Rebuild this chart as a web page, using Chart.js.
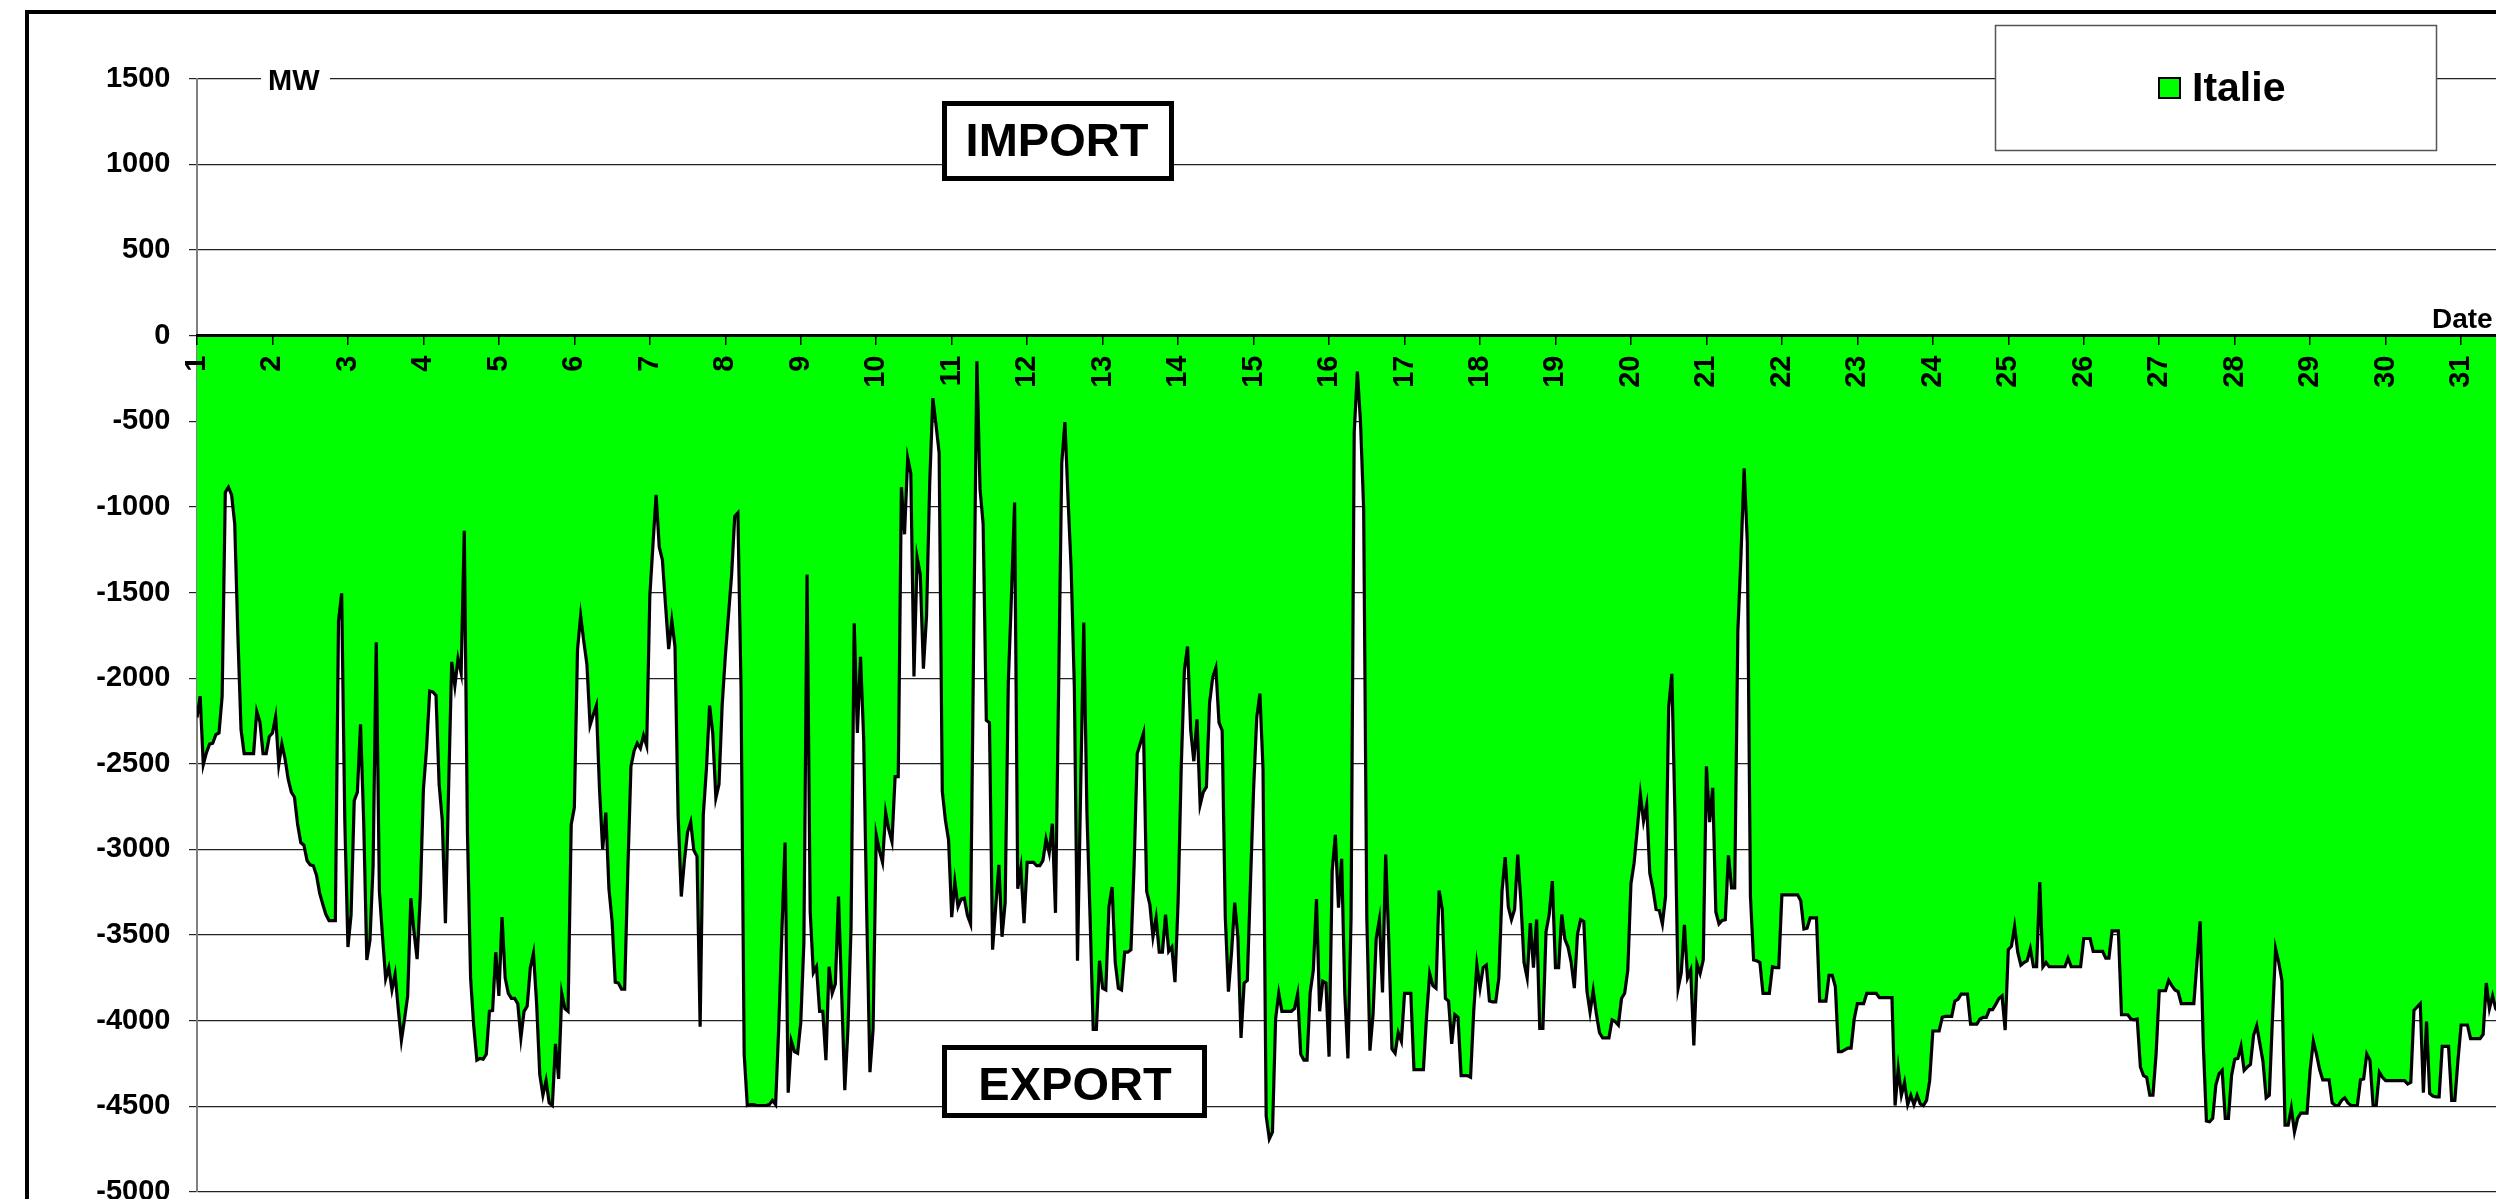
<!DOCTYPE html>
<html>
<head>
<meta charset="utf-8">
<script src="https://cdn.jsdelivr.net/npm/chart.js@4.4.1/dist/chart.umd.min.js"></script>
<style>
  html, body { margin: 0; padding: 0; background: #fff; width: 2496px; height: 1199px; overflow: hidden; }
  canvas { display: block; }
</style>
</head>
<body>
<canvas id="flows" width="2600" height="1230"></canvas>
<script>
// Day numbers shown on the horizontal axis
const dayLabels = [1,2,3,4,5,6,7,8,9,10,11,12,13,14,15,16,17,18,19,20,21,22,23,24,25,26,27,28,29,30,31];
const hoursPerDay = 24;

// Vertical axis range (MW)
const yMin = -5000;
const yMax = 1500;
const yStep = 500;

const seriesName = 'Italie';

// Hourly exchange balance with Italy, MW (negative = export)
const italieMW = [
  // day 1
  -2230,-2105,-2505,-2435,-2385,-2380,-2330,-2320,-2105,-915,-885,-930,-1100,-1750,-2300,-2440,-2440,-2440,-2440,-2195,-2255,-2440,-2440,-2340,
  // day 2
  -2320,-2225,-2505,-2385,-2470,-2590,-2665,-2695,-2855,-2960,-2975,-3065,-3090,-3095,-3150,-3255,-3320,-3380,-3415,-3415,-3415,-1665,-1505,-2830,
  // day 3
  -3570,-3380,-2715,-2665,-2270,-2830,-3645,-3530,-3095,-1790,-3245,-3510,-3755,-3690,-3820,-3730,-3930,-4115,-3990,-3855,-3285,-3480,-3640,-3275,
  // day 4
  -2650,-2410,-2075,-2080,-2100,-2620,-2830,-3430,-2650,-1905,-2045,-1885,-1970,-1140,-2900,-3750,-4030,-4230,-4220,-4225,-4195,-3945,-3940,-3600,
  // day 5
  -3855,-3395,-3750,-3840,-3870,-3870,-3900,-4100,-3945,-3915,-3690,-3605,-3900,-4315,-4435,-4350,-4480,-4495,-4135,-4340,-3840,-3930,-3945,-2855,
  // day 6
  -2755,-1835,-1635,-1785,-1920,-2275,-2215,-2160,-2650,-3000,-2785,-3230,-3420,-3775,-3780,-3815,-3815,-3125,-2515,-2425,-2380,-2410,-2335,-2395,
  // day 7
  -1520,-1220,-930,-1235,-1310,-1575,-1830,-1665,-1815,-2800,-3275,-3065,-2900,-2840,-3005,-3040,-4035,-2800,-2530,-2160,-2320,-2700,-2620,-2160,
  // day 8
  -1875,-1635,-1400,-1055,-1035,-2055,-4195,-4495,-4490,-4490,-4495,-4495,-4495,-4495,-4490,-4465,-4490,-4035,-3480,-2960,-4420,-4120,-4180,-4190,
  // day 9
  -4010,-3540,-1395,-3365,-3720,-3685,-3945,-3945,-4230,-3685,-3840,-3785,-3275,-3840,-4405,-4050,-3450,-1680,-2320,-1875,-2350,-3395,-4300,-4050,
  // day 10
  -2915,-3005,-3075,-2785,-2885,-2955,-2575,-2575,-885,-1160,-715,-805,-1990,-1295,-1395,-1945,-1635,-865,-365,-520,-685,-2660,-2830,-2945,
  // day 11
  -3395,-3190,-3335,-3290,-3285,-3385,-3435,-1755,-150,-895,-1100,-2245,-2260,-3585,-3335,-3090,-3510,-3310,-2025,-1520,-975,-3230,-3110,-3430,
  // day 12
  -3075,-3075,-3075,-3095,-3095,-3065,-2940,-3020,-2850,-3370,-2055,-745,-505,-955,-1370,-2055,-3650,-2650,-1675,-2785,-3395,-4050,-4050,-3650,
  // day 13
  -3810,-3820,-3335,-3220,-3660,-3810,-3820,-3600,-3600,-3585,-3095,-2440,-2380,-2320,-3245,-3320,-3510,-3400,-3600,-3600,-3380,-3595,-3570,-3775,
  // day 14
  -3305,-2515,-1950,-1815,-2305,-2485,-2240,-2740,-2665,-2635,-2145,-1995,-1940,-2260,-2305,-3395,-3830,-3600,-3310,-3510,-4100,-3780,-3765,-3200,
  // day 15
  -2650,-2230,-2090,-2530,-4555,-4690,-4650,-3990,-3840,-3945,-3945,-3945,-3945,-3930,-3845,-4195,-4230,-4230,-3835,-3705,-3290,-3945,-3770,-3780,
  // day 16
  -4210,-3125,-2915,-3340,-3055,-3840,-4220,-3395,-565,-210,-505,-1010,-3395,-4175,-3960,-3520,-3410,-3835,-3030,-3540,-4165,-4190,-4070,-4120,
  // day 17
  -3840,-3840,-3840,-4285,-4285,-4285,-4285,-3975,-3725,-3795,-3810,-3240,-3350,-3870,-3885,-4135,-3965,-3980,-4320,-4320,-4320,-4330,-3945,-3675,
  // day 18
  -3810,-3690,-3675,-3885,-3890,-3890,-3750,-3245,-3045,-3335,-3410,-3350,-3030,-3305,-3660,-3750,-3430,-3690,-3410,-4045,-4045,-3480,-3380,-3185,
  // day 19
  -3690,-3690,-3380,-3525,-3570,-3660,-3810,-3495,-3410,-3420,-3825,-3950,-3825,-3960,-4070,-4100,-4100,-4100,-3995,-4005,-4025,-3870,-3840,-3705,
  // day 20
  -3200,-3080,-2885,-2680,-2835,-2740,-3140,-3230,-3350,-3355,-3435,-3275,-2170,-1975,-2800,-3810,-3720,-3440,-3750,-3705,-4145,-3670,-3725,-3645,
  // day 21
  -2515,-2840,-2640,-3365,-3435,-3415,-3410,-3035,-3225,-3225,-1725,-1280,-775,-1205,-3275,-3645,-3650,-3660,-3840,-3840,-3840,-3685,-3690,-3690,
  // day 22
  -3265,-3265,-3265,-3265,-3265,-3265,-3300,-3465,-3460,-3400,-3400,-3400,-3885,-3885,-3885,-3735,-3735,-3800,-4180,-4180,-4170,-4160,-4160,-3990,
  // day 23
  -3900,-3900,-3900,-3840,-3840,-3840,-3840,-3865,-3865,-3865,-3865,-3865,-4495,-4280,-4435,-4360,-4490,-4435,-4490,-4435,-4485,-4495,-4465,-4350,
  // day 24
  -4060,-4060,-4060,-3980,-3975,-3975,-3975,-3885,-3875,-3845,-3845,-3845,-4020,-4020,-4020,-3990,-3980,-3980,-3935,-3935,-3905,-3870,-3855,-4055,
  // day 25
  -3585,-3565,-3450,-3600,-3675,-3660,-3650,-3580,-3685,-3685,-3190,-3685,-3660,-3685,-3685,-3685,-3685,-3685,-3685,-3635,-3685,-3685,-3685,-3685,
  // day 26
  -3520,-3520,-3520,-3595,-3595,-3595,-3595,-3635,-3635,-3475,-3475,-3475,-3965,-3965,-3965,-3990,-3995,-3990,-4270,-4320,-4330,-4435,-4435,-4195,
  // day 27
  -3825,-3825,-3825,-3765,-3795,-3820,-3830,-3900,-3900,-3900,-3900,-3900,-3660,-3420,-4135,-4585,-4590,-4570,-4375,-4310,-4290,-4570,-4570,-4320,
  // day 28
  -4225,-4220,-4150,-4290,-4270,-4255,-4085,-4030,-4135,-4240,-4450,-4435,-3990,-3580,-3660,-3765,-4610,-4610,-4510,-4650,-4570,-4540,-4540,-4540,
  // day 29
  -4285,-4120,-4195,-4285,-4345,-4345,-4345,-4480,-4495,-4495,-4465,-4450,-4480,-4495,-4495,-4495,-4345,-4340,-4195,-4230,-4495,-4495,-4300,-4330,
  // day 30
  -4350,-4350,-4350,-4350,-4350,-4350,-4350,-4370,-4360,-3940,-3920,-3900,-4420,-4005,-4425,-4440,-4445,-4445,-4150,-4150,-4150,-4465,-4465,-4230,
  // day 31
  -4025,-4025,-4025,-4105,-4105,-4105,-4105,-4080,-3780,-3930,-3855,-3930,-3950
];

const FONT = "'Liberation Sans', Arial, Helvetica, sans-serif";
const GREEN = '#00ff00';

// x position of each hourly value, in days (day 1 starts at 1)
const points = italieMW.map((v, i) => ({ x: dayLabels[0] + i / hoursPerDay, y: v }));

// Frame, axis captions, IMPORT/EXPORT boxes and the legend box
const decorations = {
  id: 'decorations',
  beforeDraw(chart) {
    const ctx = chart.ctx;
    ctx.save();
    ctx.fillStyle = '#fff';
    ctx.fillRect(0, 0, chart.width, chart.height);
    ctx.restore();
  },
  afterDraw(chart) {
    const ctx = chart.ctx;
    ctx.save();

    // outer frame (top and left edges)
    ctx.strokeStyle = '#000';
    ctx.lineWidth = 4;
    ctx.beginPath();
    ctx.moveTo(27, chart.height + 10);
    ctx.lineTo(27, 12);
    ctx.lineTo(chart.width + 10, 12);
    ctx.stroke();

    // unit caption sitting on the top gridline
    ctx.fillStyle = '#fff';
    ctx.fillRect(261, 66, 69, 28);
    ctx.fillStyle = '#000';
    ctx.font = 'bold 29px ' + FONT;
    ctx.textAlign = 'left';
    ctx.textBaseline = 'alphabetic';
    ctx.fillText('MW', 268, 90);

    // horizontal axis caption
    ctx.font = 'bold 28px ' + FONT;
    ctx.fillText('Date', 2432, 328);

    // labelled boxes
    const box = (x, y, w, h, text, cx, base) => {
      ctx.fillStyle = '#fff';
      ctx.fillRect(x, y, w, h);
      ctx.strokeStyle = '#000';
      ctx.lineWidth = 5;
      ctx.strokeRect(x + 2.5, y + 2.5, w - 5, h - 5);
      ctx.fillStyle = '#000';
      ctx.font = 'bold 47px ' + FONT;
      ctx.textAlign = 'center';
      ctx.fillText(text, cx, base);
    };
    box(942, 101, 232, 80, 'IMPORT', 1057, 156);
    box(942, 1045, 265, 73, 'EXPORT', 1075, 1100);

    // legend
    const ds = chart.data.datasets[0];
    ctx.fillStyle = '#fff';
    ctx.fillRect(1995, 25, 442, 126);
    ctx.strokeStyle = '#555';
    ctx.lineWidth = 1.5;
    ctx.strokeRect(1995.5, 25.5, 441, 125);
    ctx.fillStyle = ds.backgroundColor;
    ctx.fillRect(2159, 78, 21, 20);
    ctx.strokeStyle = '#000';
    ctx.lineWidth = 2;
    ctx.strokeRect(2159, 78, 21, 20);
    ctx.fillStyle = '#000';
    ctx.font = 'bold 41px ' + FONT;
    ctx.textAlign = 'left';
    ctx.fillText(ds.label, 2192, 101);

    ctx.restore();
  }
};

new Chart(document.getElementById('flows'), {
  type: 'line',
  data: {
    datasets: [{
      label: seriesName,
      data: points,
      fill: 'origin',
      backgroundColor: GREEN,
      borderColor: '#000',
      borderWidth: 3.2,
      pointRadius: 0,
      pointHoverRadius: 0,
      tension: 0
    }]
  },
  options: {
    responsive: false,
    animation: false,
    devicePixelRatio: 1,
    layout: { padding: { left: 0, top: 78.7, right: 63.4, bottom: 38 } },
    plugins: {
      legend: { display: false },
      tooltip: { enabled: false }
    },
    scales: {
      x: {
        type: 'linear',
        min: dayLabels[0],
        max: dayLabels[dayLabels.length - 1] + 1,
        position: { y: 0 },
        afterFit: (s) => { s.height = 0; },
        grid: { z: 1, drawOnChartArea: false, drawTicks: true, tickLength: 8, color: '#000', lineWidth: 1.5 },
        border: { z: 1, display: true, color: '#000', width: 3 },
        ticks: {
          z: 1,
          stepSize: 1,
          autoSkip: false,
          minRotation: 90,
          maxRotation: 90,
          padding: 12,
          color: '#000',
          font: { family: FONT, size: 29, weight: 'bold' },
          callback: (v) => dayLabels.includes(v) ? String(v) : ''
        }
      },
      y: {
        min: yMin,
        max: yMax,
        afterFit: (s) => { s.width = 197; },
        grid: { color: '#222', lineWidth: 1.2, tickLength: 8, drawTicks: true },
        border: { display: true, color: '#808080', width: 2 },
        ticks: {
          stepSize: yStep,
          padding: 18.5,
          color: '#000',
          font: { family: FONT, size: 29, weight: 'bold' },
          callback: (v) => String(v)
        }
      }
    }
  },
  plugins: [decorations]
});
</script>
</body>
</html>
